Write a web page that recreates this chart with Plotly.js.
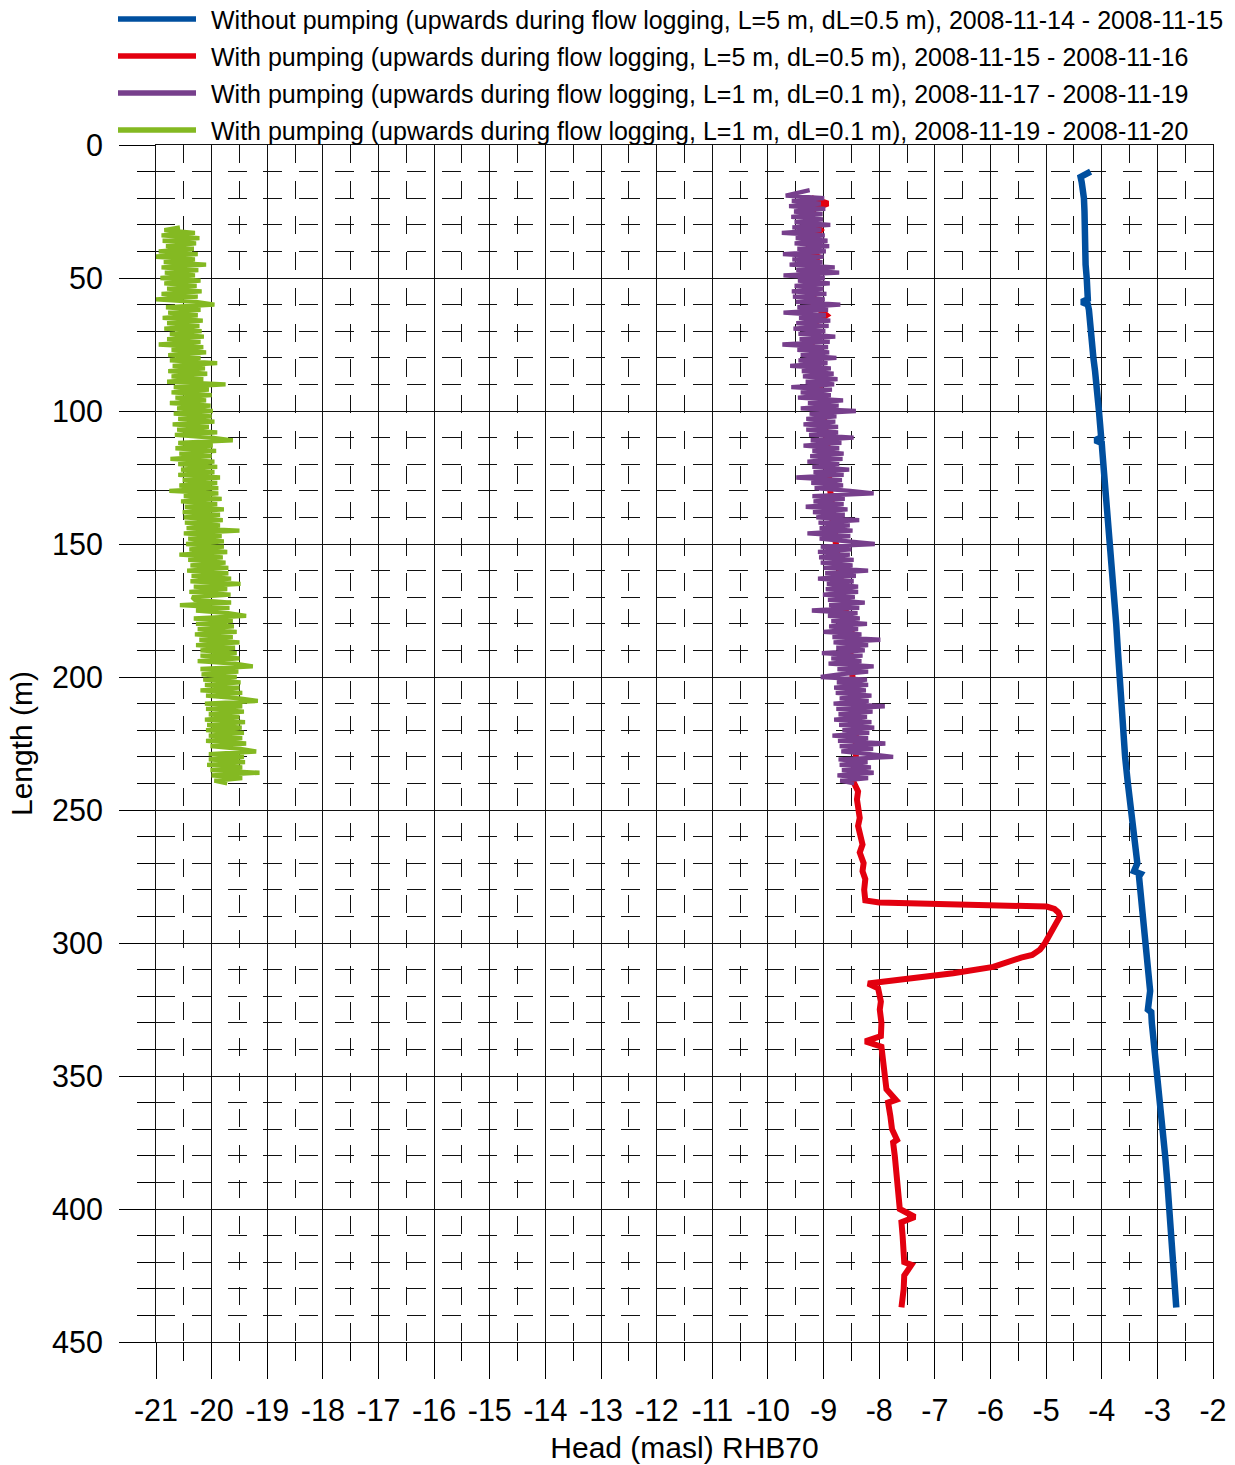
<!DOCTYPE html>
<html>
<head>
<meta charset="utf-8">
<script src="https://cdn.plot.ly/plotly-3.0.1.min.js"></script>
<style>html,body{margin:0;padding:0;background:#fff;}#chart{width:1235px;height:1465px;}</style>
</head>
<body>
<div id="chart"></div>
<script>
// ---------- DATA ----------
const seriesNames = [
  "Without pumping (upwards during flow logging, L=5 m, dL=0.5 m), 2008-11-14 - 2008-11-15",
  "With pumping (upwards during flow logging, L=5 m, dL=0.5 m), 2008-11-15 - 2008-11-16",
  "With pumping (upwards during flow logging, L=1 m, dL=0.1 m), 2008-11-17 - 2008-11-19",
  "With pumping (upwards during flow logging, L=1 m, dL=0.1 m), 2008-11-19 - 2008-11-20"
];
const seriesColors = ["#004f9f", "#e3000f", "#773f8c", "#84b922"];

const blueLength = [10,11,12,14,17,20,25,30,35,40,45,50,55,58,59,60,62,65,70,75,80,85,90,95,100,105,110,111,112,115,120,125,130,140,150,160,170,180,190,200,210,220,230,240,250,260,265,270,273,274,275,280,290,300,310,318,325,326,330,340,350,360,370,380,390,400,410,420,430,436,437];
const blueHead = [-4.2,-4.27,-4.38,-4.36,-4.33,-4.32,-4.31,-4.31,-4.3,-4.3,-4.29,-4.27,-4.26,-4.25,-4.36,-4.25,-4.23,-4.22,-4.2,-4.17,-4.15,-4.12,-4.09,-4.07,-4.05,-4.03,-4.01,-4.12,-4.0,-3.99,-3.97,-3.95,-3.93,-3.88,-3.85,-3.81,-3.77,-3.74,-3.71,-3.68,-3.65,-3.62,-3.58,-3.53,-3.47,-3.41,-3.38,-3.36,-3.42,-3.3,-3.33,-3.31,-3.26,-3.21,-3.17,-3.13,-3.17,-3.11,-3.1,-3.05,-2.99,-2.95,-2.91,-2.86,-2.82,-2.78,-2.74,-2.71,-2.67,-2.64,-2.66];

const redLength = [20,22,24,28,32,36,40,42,46,50,55,60,64,68,72,75,80,85,90,95,100,105,110,115,120,125,130,135,140,145,150,155,160,165,170,175,180,185,190,195,200,205,210,215,220,225,230,235,237,240,243,246,250,253,256,260,263,266,270,273,276,280,283,284,284.8,285.4,286.3,287.2,288.5,290,293,297,300,302.5,304.5,305.5,307.5,309,311.4,312.7,314.2,315.2,317,319,322,325,330,335,337,339,345,350,355,359,360,365,370,374,375,380,385,390,395,400,403,405,410,415,420,421,425,430,435,437];
const redHead = [-9.22,-8.92,-9.18,-9.22,-9.05,-9.22,-9.3,-9.1,-9.22,-9.2,-9.18,-9.18,-8.95,-9.25,-9.15,-9.22,-9.12,-9.1,-9.08,-9.05,-9.02,-8.98,-8.95,-8.92,-8.95,-8.9,-8.88,-8.85,-8.85,-8.8,-8.78,-8.75,-8.72,-8.7,-8.65,-8.6,-8.58,-8.45,-8.52,-8.5,-8.48,-8.45,-8.45,-8.42,-8.42,-8.42,-8.42,-8.45,-8.5,-8.45,-8.38,-8.4,-8.38,-8.35,-8.38,-8.33,-8.3,-8.35,-8.28,-8.3,-8.25,-8.27,-8.25,-8.25,-8.0,-6.67,-4.99,-4.85,-4.78,-4.75,-4.83,-4.93,-5.02,-5.11,-5.25,-5.45,-5.71,-5.95,-6.67,-7.27,-7.99,-8.2,-8.02,-8.0,-7.97,-7.99,-7.96,-7.97,-8.25,-7.96,-7.93,-7.9,-7.87,-7.7,-7.84,-7.8,-7.77,-7.68,-7.75,-7.72,-7.7,-7.68,-7.66,-7.63,-7.36,-7.6,-7.58,-7.57,-7.55,-7.42,-7.55,-7.56,-7.58,-7.6];

const purpleLength = [17,18,19,20,21,22,23,24,25,26,27,28,29,30,31,32,33,34,35,36,37,38,39,40,41,42,43,44,45,46,47,48,49,50,51,52,53,54,55,56,57,58,59,60,61,62,63,64,65,66,67,68,69,70,71,72,73,74,75,76,77,78,79,80,81,82,83,84,85,86,87,88,89,90,91,92,93,94,95,96,97,98,99,100,101,102,103,104,105,106,107,108,109,110,111,112,113,114,115,116,117,118,119,120,121,122,123,124,125,126,127,128,129,130,131,132,133,134,135,136,137,138,139,140,141,142,143,144,145,146,147,148,149,150,151,152,153,154,155,156,157,158,159,160,161,162,163,164,165,166,167,168,169,170,171,172,173,174,175,176,177,178,179,180,181,182,183,184,185,186,187,188,189,190,191,192,193,194,195,196,197,198,199,200,201,202,203,204,205,206,207,208,209,210,211,212,213,214,215,216,217,218,219,220,221,222,223,224,225,226,227,228,229,230,231,232,233,234,235,236,237,238,239,240];
const purpleHead = [
-9.25,-9.52,-9.68,-8.99,-9.57,-9.05,-9.62,-8.97,-9.53,-9.02,
-9.58,-9.01,-9.52,-8.88,-9.56,-9.04,-9.75,-8.98,-9.5,-8.93,
-9.52,-8.9,-9.47,-8.96,-9.73,-9.0,-9.56,-9.02,-9.61,-8.8,
-9.49,-8.72,-9.72,-8.98,-9.46,-8.89,-9.52,-9.0,-9.57,-8.95,
-9.55,-8.98,-9.5,-8.7,-9.47,-8.92,-9.72,-8.96,-9.44,-8.88,
-9.49,-8.91,-9.54,-8.97,-9.45,-8.79,-9.43,-8.89,-9.74,-8.92,
-9.47,-8.9,-9.41,-8.77,-9.45,-8.93,-9.6,-8.87,-9.39,-8.82,
-9.37,-8.75,-9.32,-8.81,-9.58,-8.85,-9.41,-8.87,-9.46,-8.65,
-9.28,-8.73,-9.41,-8.42,-9.25,-8.77,-9.31,-8.79,-9.36,-8.74,
-9.31,-8.74,-9.26,-8.46,-9.23,-8.68,-9.36,-8.72,-9.2,-8.64,
-9.24,-8.66,-9.29,-8.72,-9.2,-8.54,-9.18,-8.64,-9.49,-8.67,
-9.22,-8.65,-9.16,-8.52,-8.1,-9.2,-8.62,-9.18,-8.64,-9.32,
-8.57,-9.19,-8.62,-9.13,-8.36,-9.09,-8.53,-9.07,-8.48,-9.29,
-8.52,-9.07,-8.45,-8.08,-9.05,-8.5,-9.1,-8.53,-9.08,-8.46,
-9.05,-8.48,-9.0,-8.2,-8.97,-8.42,-9.1,-8.46,-8.94,-8.38,
-8.96,-8.38,-9.01,-8.44,-8.92,-8.26,-8.9,-8.36,-9.21,-8.39,
-8.92,-8.35,-8.86,-8.22,-8.9,-8.38,-9.0,-8.32,-8.84,-7.98,
-8.82,-8.2,-8.77,-8.26,-9.03,-8.3,-8.86,-8.32,-8.91,-8.1,
-8.75,-8.2,-8.72,-9.05,-8.22,-8.76,-8.2,-8.81,-8.24,-8.78,
-8.14,-8.71,-8.19,-8.82,-7.9,-8.77,-8.12,-8.73,-8.22,-8.81,
-8.14,-8.72,-8.09,-8.66,-8.18,-8.84,-8.2,-8.74,-7.89,-8.71,
-8.11,-8.68,-8.17,-7.75,-8.73,-8.21,-8.71,-8.15,-8.67,-8.1,
-8.75,-8.2,-8.7,-8.45];

const greenLength = [31,32,33,34,35,36,37,38,39,40,41,42,43,44,45,46,47,48,49,50,51,52,53,54,55,56,57,58,59,60,61,62,63,64,65,66,67,68,69,70,71,72,73,74,75,76,77,78,79,80,81,82,83,84,85,86,87,88,89,90,91,92,93,94,95,96,97,98,99,100,101,102,103,104,105,106,107,108,109,110,111,112,113,114,115,116,117,118,119,120,121,122,123,124,125,126,127,128,129,130,131,132,133,134,135,136,137,138,139,140,141,142,143,144,145,146,147,148,149,150,151,152,153,154,155,156,157,158,159,160,161,162,163,164,165,166,167,168,169,170,171,172,173,174,175,176,177,178,179,180,181,182,183,184,185,186,187,188,189,190,191,192,193,194,195,196,197,198,199,200,201,202,203,204,205,206,207,208,209,210,211,212,213,214,215,216,217,218,219,220,221,222,223,224,225,226,227,228,229,230,231,232,233,234,235,236,237,238,239,240];
const greenHead = [
-20.57,-20.85,-20.3,-20.9,-20.22,-20.88,-20.28,-20.82,-20.32,-20.95,
-20.25,-21.07,-20.3,-20.86,-20.1,-20.9,-20.24,-20.84,-20.3,-20.92,
-20.2,-20.85,-20.27,-20.8,-20.18,-20.9,-20.25,-21.0,-20.28,-19.95,
-20.82,-20.2,-20.78,-20.25,-20.88,-20.16,-20.8,-20.22,-20.85,-20.18,
-20.75,-20.14,-20.8,-20.2,-20.95,-20.15,-20.72,-20.1,-20.78,-20.2,
-20.75,-19.9,-20.7,-20.12,-20.78,-20.08,-20.72,-20.15,-20.8,-19.75,
-20.68,-20.05,-20.72,-20.0,-20.65,-20.1,-20.75,-20.02,-20.62,-19.98,
-20.68,-20.0,-20.6,-19.95,-20.7,-20.05,-20.62,-19.9,-20.66,-20.0,
-19.62,-20.6,-19.98,-20.65,-19.92,-20.58,-20.0,-20.74,-19.95,-20.6,
-19.9,-20.55,-19.95,-20.6,-19.85,-20.52,-19.9,-20.58,-19.88,-20.76,
-19.88,-20.5,-19.82,-20.55,-19.9,-20.48,-19.78,-20.52,-19.85,-20.5,
-19.8,-20.48,-19.85,-20.45,-19.5,-20.5,-19.82,-20.42,-19.78,-20.46,
-19.78,-20.4,-19.72,-20.58,-19.8,-20.42,-19.75,-20.38,-19.7,-20.44,
-19.7,-20.36,-19.65,-20.38,-19.48,-20.32,-19.72,-20.4,-19.66,-20.35,
-20.3,-19.65,-20.57,-19.68,-20.28,-19.7,-19.38,-20.32,-19.62,-20.28,
-19.6,-20.25,-19.55,-20.3,-19.62,-20.22,-19.5,-20.28,-19.58,-20.2,
-19.55,-20.2,-19.5,-20.25,-19.58,-19.26,-20.2,-19.52,-20.18,-19.55,
-20.15,-19.48,-20.12,-19.5,-20.2,-19.45,-20.1,-19.5,-19.17,-20.12,
-19.45,-20.1,-19.42,-20.05,-19.5,-20.12,-19.4,-20.08,-19.46,-20.1,
-19.42,-20.05,-19.45,-20.1,-19.38,-20.02,-19.48,-19.2,-20.05,-19.42,
-20.05,-19.4,-20.08,-19.45,-20.02,-19.14,-20.0,-19.45,-19.95,-19.72];

const xTickVals = [-21,-20,-19,-18,-17,-16,-15,-14,-13,-12,-11,-10,-9,-8,-7,-6,-5,-4,-3,-2];
const yTickVals = [0,50,100,150,200,250,300,350,400,450];
const xTitle = "Head (masl) RHB70";
const yTitle = "Length (m)";

// ---------- TRACES ----------
const FONT = "'Liberation Sans', Arial, Helvetica, sans-serif";
const lineWidths = [6.5, 6, 4.3, 4.3];
const seriesX = [blueHead, redHead, purpleHead, greenHead];
const seriesY = [blueLength, redLength, purpleLength, greenLength];
const traces = seriesX.map((xs, i) => ({
  type: 'scatter', mode: 'lines',
  x: xs, y: seriesY[i],
  name: seriesNames[i],
  showlegend: false,
  line: {color: seriesColors[i], width: lineWidths[i], shape: 'linear'},
  hoverinfo: 'x+y'
}));

// ---------- LAYOUT ----------
const W = 1235, H = 1465;
const M = {l: 156, r: 22, t: 145, b: 123};
const PW = W - M.l - M.r, PH = H - M.t - M.b;
const px2x = p => (p - M.l) / PW;           // pixel -> paper x
const py2y = p => (H - M.b - p) / PH;       // pixel -> paper y

// legend drawn as paper-referenced lines + text
const legendRowsPx = [19, 56, 93, 130];
const shapes = legendRowsPx.map((py, i) => ({
  type: 'line', xref: 'paper', yref: 'paper',
  x0: px2x(118), x1: px2x(196), y0: py2y(py), y1: py2y(py),
  line: {color: seriesColors[i], width: 5.5}
}));
const annotations = legendRowsPx.map((py, i) => ({
  xref: 'paper', yref: 'paper', x: px2x(209), y: py2y(py + 1),
  xanchor: 'left', yanchor: 'middle', showarrow: false,
  text: seriesNames[i], font: {family: FONT, size: 25, color: '#000'}
}));

const axisCommon = {
  ticks: 'outside', ticklen: 36, tickwidth: 1, tickcolor: '#000',
  showgrid: true, gridcolor: '#111', gridwidth: 1,
  zeroline: false, showline: true, linecolor: '#111', linewidth: 1, mirror: true,
  tickfont: {family: FONT, size: 30.5, color: '#000'},
  fixedrange: true
};

const layout = {
  width: W, height: H,
  margin: {l: M.l, r: M.r, t: M.t, b: M.b, pad: 0, autoexpand: false},
  paper_bgcolor: '#fff', plot_bgcolor: '#fff',
  font: {family: FONT, color: '#000', size: 25},
  showlegend: false,
  shapes: shapes,
  annotations: annotations,
  xaxis: Object.assign({}, axisCommon, {
    range: [-21, -2], tickmode: 'array', tickvals: xTickVals,
    ticktext: xTickVals.map(v => String(v)),
    side: 'bottom', ticklabelstandoff: 5,
    minor: {dtick: 0.5, tick0: -21, ticks: 'outside', ticklen: 18, tickcolor: '#000', tickwidth: 1,
            showgrid: true, gridcolor: '#111', gridwidth: 1, griddash: '18px,17.7px'},
    title: {text: xTitle, font: {family: FONT, size: 30, color: '#000'}, standoff: 11}
  }),
  yaxis: Object.assign({}, axisCommon, {
    range: [450, 0], tickmode: 'array', tickvals: yTickVals,
    ticktext: yTickVals.map(v => String(v)),
    ticklabelstandoff: 10,
    minor: {dtick: 10, tick0: 0, ticks: 'outside', ticklen: 18, tickcolor: '#000', tickwidth: 1,
            showgrid: true, gridcolor: '#111', gridwidth: 1, griddash: '19px,16.8px'},
    title: {text: yTitle, font: {family: FONT, size: 30, color: '#000'}, standoff: 10}
  })
};

Plotly.newPlot('chart', traces, layout, {staticPlot: true, displayModeBar: false});
</script>
</body>
</html>
